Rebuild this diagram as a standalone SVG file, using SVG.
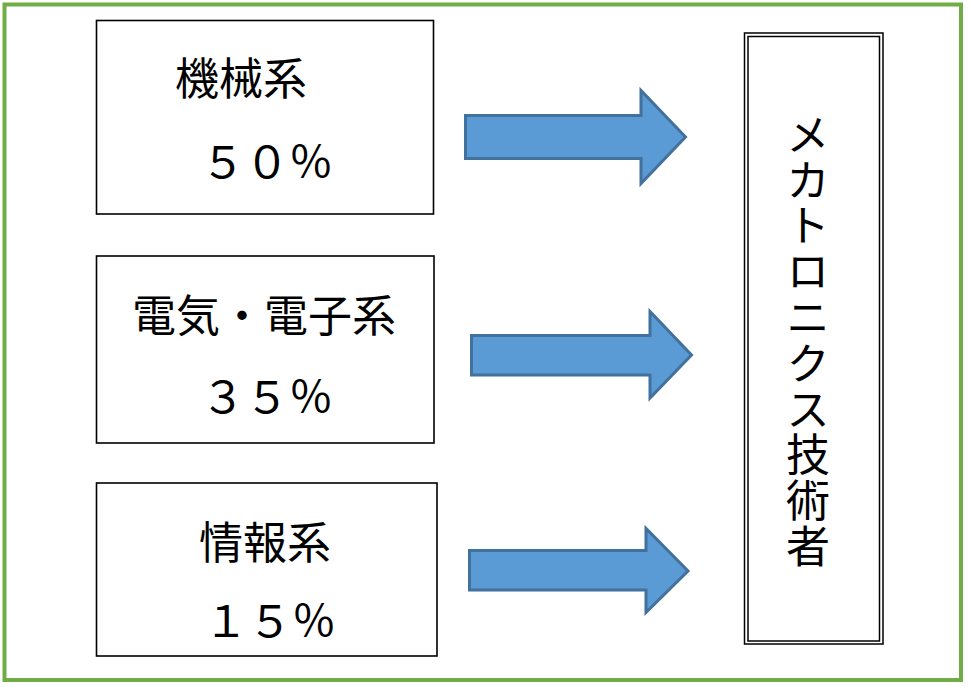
<svg xmlns="http://www.w3.org/2000/svg" width="969" height="687" viewBox="0 0 969 687">
<style>
.frame{fill:#fff;stroke:#70AD47;stroke-width:4}
.box{fill:#fff;stroke:#000;stroke-width:1.6}
.dbl{fill:none;stroke:#000;stroke-width:1.5}
.arrow{fill:#5B9BD5;stroke:#41719C;stroke-width:3;stroke-linejoin:miter}
.t{font-family:"Noto Sans CJK JP","Noto Sans CJK SC",sans-serif;font-size:44px;fill:#000;text-anchor:middle}
.v{font-family:"Noto Sans CJK JP","Noto Sans CJK SC",sans-serif;font-size:44px;fill:#000;writing-mode:vertical-rl;text-anchor:start;letter-spacing:1.8px}
</style>
<rect class="frame" x="4.5" y="4.5" width="956.5" height="675.5"/>
<g id="node-mech">
<rect class="box" x="96.5" y="20.5" width="337" height="193.5"/>
<text class="t" x="241" y="95">機械系</text>
<text class="t" x="267" y="178">５０％</text>
</g>
<g id="node-elec">
<rect class="box" x="96.5" y="256" width="337.5" height="187"/>
<text class="t" x="264" y="332">電気・電子系</text>
<text class="t" x="267" y="413">３５％</text>
</g>
<g id="node-info">
<rect class="box" x="96.5" y="483" width="340.5" height="173"/>
<text class="t" x="265" y="559">情報系</text>
<text class="t" x="270" y="637">１５％</text>
</g>
<g id="node-mechatronics">
<rect class="dbl" x="744.5" y="33" width="138.5" height="611"/>
<rect class="dbl" x="748" y="36.5" width="131.5" height="604.5"/>
<text class="v" x="808" y="112">メカトロニクス技術者</text>
</g>
<g id="connectors">
<polygon class="arrow" points="465.5,115.5 641,115.5 641,90.5 685.5,137 641,183.5 641,158.5 465.5,158.5"/>
<polygon class="arrow" points="471.5,335.5 650,335.5 650,311.5 691.5,355 650,398 650,375 471.5,375"/>
<polygon class="arrow" points="469.5,550.5 646,550.5 646,528.5 688,571 646,612.5 646,590 469.5,590"/>
</g>
</svg>
